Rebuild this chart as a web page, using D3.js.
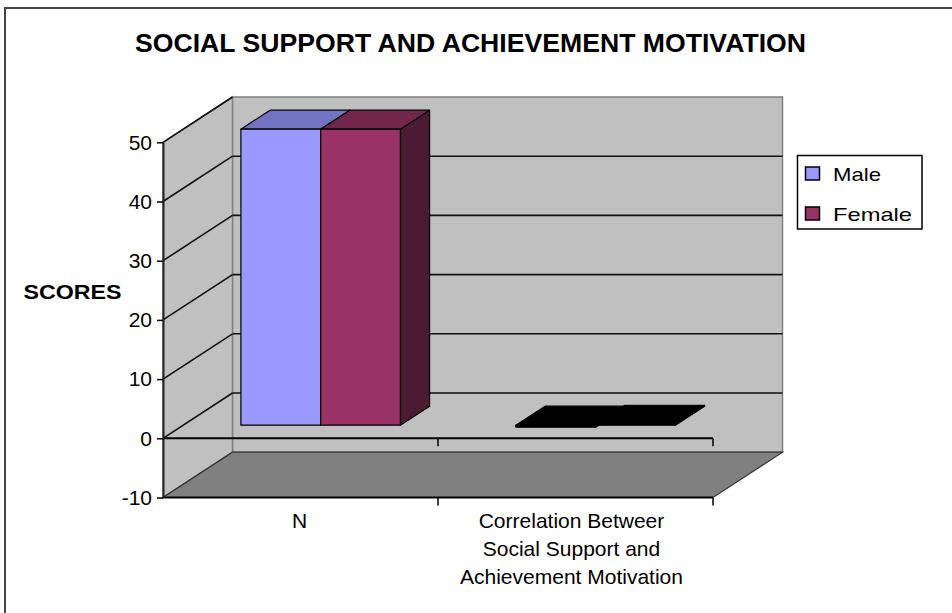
<!DOCTYPE html>
<html><head><meta charset="utf-8">
<script src="https://cdn.jsdelivr.net/npm/d3@7"></script>
<style>html,body{margin:0;padding:0;background:#fff;} svg{display:block;}</style>
</head><body>
<svg id="chart" width="952" height="613"></svg>
<script>
// ---------- data ----------
const chartTitle = "SOCIAL SUPPORT AND ACHIEVEMENT MOTIVATION";
const yAxisTitle = "SCORES";
const categories = ["N", "Correlation"];
const categoryLabels = [["N"], ["Correlation Betweer", "Social Support and", "Achievement Motivation"]];
const seriesNames = ["Male", "Female"];
const maleValues = [50, -0.35];
const femaleValues = [50, 0.15];
const yTicks = [-10, 0, 10, 20, 30, 40, 50];

// ---------- styles ----------
const frontColors = {Male: "#9999FF", Female: "#993366"};
const topColors = {Male: "#7373C4", Female: "#72264C"};
const sideColors = {Male: "#4D4D80", Female: "#4C1A33"};
const FONT = "'Liberation Sans', Arial, sans-serif";

const svg = d3.select("#chart");

// ---------- scales ----------
const y = d3.scaleLinear().domain([-10, 50]).range([497.5, 142.3]);
const x = d3.scaleBand().domain(categories).range([163, 713]).padding(0);
const bw = x.bandwidth();
const x1 = d3.scaleBand().domain(seriesNames).range([bw * 0.21, bw * 0.79]).padding(0);
const DX = 69.5, DY = -45.3;     // depth projection
const D0 = 0.29, D1 = 0.71;      // bar depth
const P = (xx, v, d) => [xx + DX * d, y(v) + DY * d];
const poly = pts => "M" + pts.map(p => p.join(",")).join("L") + "Z";

const [xa, xb] = x.range();
const [vmin, vmax] = y.domain();

// frame
svg.append("rect").attr("x", 5).attr("y", 8).attr("width", 1000).attr("height", 1000)
  .attr("fill", "none").attr("stroke", "#444").attr("stroke-width", 2);

// walls
svg.append("path").attr("d", poly([P(xa, vmax, 1), P(xb, vmax, 1), P(xb, vmin, 1), P(xa, vmin, 1)]))
  .attr("fill", "#C0C0C0").attr("stroke", "#808080").attr("stroke-width", 1.5);
svg.append("path").attr("d", poly([P(xa, vmax, 0), P(xa, vmax, 1), P(xa, vmin, 1), P(xa, vmin, 0)]))
  .attr("fill", "#C0C0C0").attr("stroke", "#808080").attr("stroke-width", 1.5);

// gridlines
yTicks.filter(v => v > vmin && v < vmax).forEach(v => {
  const a = P(xa, v, 1), b = P(xb, v, 1);
  svg.append("line").attr("x1", a[0]).attr("y1", a[1]).attr("x2", b[0]).attr("y2", b[1])
    .attr("stroke", "#111").attr("stroke-width", 1.6);
});
yTicks.filter(v => v > vmin).forEach(v => {
  const a = P(xa, v, 0), b = P(xa, v, 1);
  svg.append("line").attr("x1", a[0]).attr("y1", a[1]).attr("x2", b[0]).attr("y2", b[1])
    .attr("stroke", "#111").attr("stroke-width", 1.6);
});

// floor
svg.append("path").attr("d", poly([P(xa, vmin, 0), P(xb, vmin, 0), P(xb, vmin, 1), P(xa, vmin, 1)]))
  .attr("fill", "#808080").attr("stroke", "#333").attr("stroke-width", 1.2);

// bars
const seriesValues = {Male: maleValues, Female: femaleValues};
categories.forEach((c, i) => {
  seriesNames.forEach(s => {
    const v = seriesValues[s][i];
    const xf0 = x(c) + x1(s), xf1 = xf0 + x1.bandwidth();
    const v0 = Math.min(0, v), v1 = Math.max(0, v);
    const tiny = Math.abs(y(v) - y(0)) < 3;
    const g = svg.append("g").attr("stroke", "#000").attr("stroke-width", 1.2).attr("stroke-linejoin", "round");
    g.append("path").attr("d", poly([P(xf1, v1, D0), P(xf1, v1, D1), P(xf1, v0, D1), P(xf1, v0, D0)]))
      .attr("fill", tiny ? "#000" : sideColors[s]);
    g.append("path").attr("d", poly([P(xf0, v1, D0), P(xf1, v1, D0), P(xf1, v1, D1), P(xf0, v1, D1)]))
      .attr("fill", tiny ? "#000" : topColors[s]);
    g.append("path").attr("d", poly([P(xf0, v1, D0), P(xf1, v1, D0), P(xf1, v0, D0), P(xf0, v0, D0)]))
      .attr("fill", tiny ? "#000" : frontColors[s]);
  });
});

// category axis line at 0 and floor front edge
const bounds = categories.map(c => x(c)).concat([xb]);
[0, vmin].forEach(v => {
  svg.append("line").attr("x1", xa).attr("x2", xb).attr("y1", y(v)).attr("y2", y(v))
    .attr("stroke", "#000").attr("stroke-width", 2);
  bounds.slice(1).forEach(bx => {
    svg.append("line").attr("x1", bx).attr("x2", bx).attr("y1", y(v)).attr("y2", y(v) + 8)
      .attr("stroke", "#000").attr("stroke-width", 1.5);
  });
});

// value axis
const yAxis = svg.append("g").attr("transform", `translate(${xa},0)`)
  .call(d3.axisLeft(y).tickValues(yTicks).tickFormat(d => String(d))
    .tickSize(6).tickSizeOuter(0).tickPadding(5));
yAxis.select(".domain").attr("stroke", "#222").attr("stroke-width", 2);
yAxis.selectAll(".tick line").attr("stroke", "#000").attr("stroke-width", 1.5);
yAxis.selectAll(".tick text").attr("font-family", FONT).attr("font-size", 21).attr("fill", "#000");

// category labels
categories.forEach((c, i) => {
  const cx = x(c) + bw / 2 - (i === 1 ? 4 : 1);
  const t = svg.append("text").attr("x", cx).attr("y", 528)
    .attr("text-anchor", "middle").attr("font-family", FONT).attr("font-size", 21).attr("fill", "#000");
  categoryLabels[i].forEach((line, k) => {
    t.append("tspan").attr("x", cx).attr("dy", k === 0 ? 0 : 28).text(line);
  });
});

// titles
svg.append("text").attr("x", 470.5).attr("y", 51.5).attr("text-anchor", "middle")
  .attr("font-family", FONT).attr("font-weight", "bold").attr("font-size", 26)
  .attr("textLength", 671).attr("lengthAdjust", "spacingAndGlyphs").text(chartTitle);
svg.append("text").attr("x", 23.5).attr("y", 299).attr("font-family", FONT)
  .attr("font-weight", "bold").attr("font-size", 21)
  .attr("textLength", 98).attr("lengthAdjust", "spacingAndGlyphs").text(yAxisTitle);

// legend
const lg = svg.append("g");
lg.append("rect").attr("x", 797.5).attr("y", 155.5).attr("width", 124.5).attr("height", 73.5)
  .attr("fill", "#fff").attr("stroke", "#000").attr("stroke-width", 1.5);
const legendLen = {Male: 48, Female: 79};
seriesNames.forEach((s, k) => {
  const yy = 167 + k * 40;
  lg.append("rect").attr("x", 805.5).attr("y", yy).attr("width", 14).attr("height", 13)
    .attr("fill", frontColors[s]).attr("stroke", "#000").attr("stroke-width", 1.5);
  lg.append("text").attr("x", 833).attr("y", yy + 13.5).attr("font-family", FONT).attr("font-size", 19)
    .attr("textLength", legendLen[s]).attr("lengthAdjust", "spacingAndGlyphs").text(s);
});
</script>
</body></html>
